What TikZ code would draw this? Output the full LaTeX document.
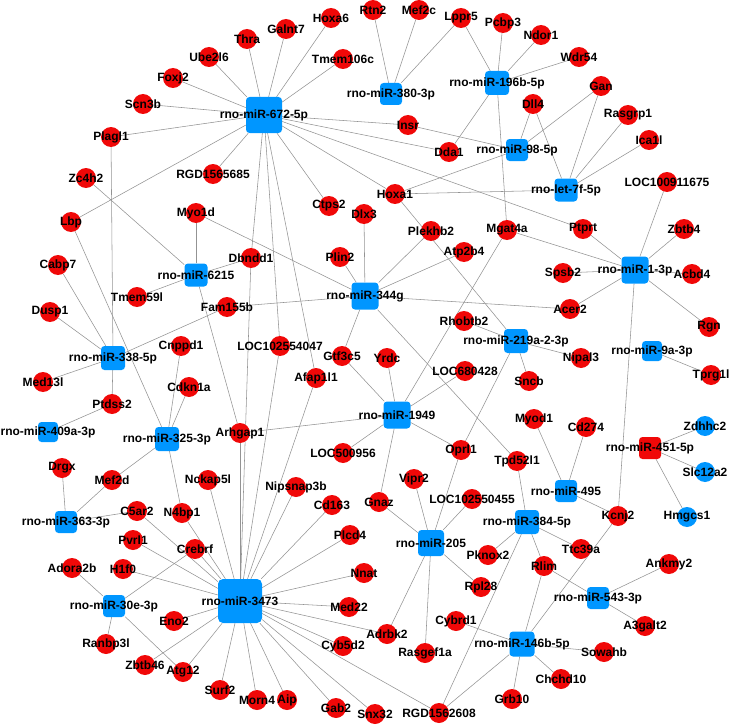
\documentclass[tikz,border=0pt]{standalone}
\usepackage{fontspec}
\setmainfont{Liberation Sans}
\usetikzlibrary{backgrounds}

\definecolor{mirblue}{RGB}{0,150,255}
\definecolor{genered}{RGB}{240,8,8}

\begin{document}
\begin{tikzpicture}[x=1pt, y=-1pt,
    every node/.style={font=\bfseries\fontsize{12pt}{13pt}\selectfont},
    gene/.style={circle, fill=genered, minimum size=20pt, inner sep=0pt},
    bgene/.style={circle, fill=mirblue, minimum size=20pt, inner sep=0pt},
    mir/.style={rectangle, rounded corners=3.5pt, fill=mirblue, minimum size=#1, inner sep=0pt},
    mir/.default=22pt,
    link/.style={draw=gray!85, line width=0.55pt}]
    \useasboundingbox (0,0) rectangle (729,725);

    % miRNA hubs
    \node[mir=36pt, label=center:{rno-miR-672-5p}] (m672) at (264,115) {};
    \node[mir, label=center:{rno-miR-380-3p}] (m380) at (391,94) {};
    \node[mir=24pt, label=center:{rno-miR-196b-5p}] (m196b) at (497,83) {};
    \node[mir, label=center:{rno-miR-98-5p}] (m98) at (517,150) {};
    \node[mir=23pt, label=center:{rno-let-7f-5p}] (let7f) at (566,190) {};
    \node[mir=27pt, label=center:{rno-miR-1-3p}] (m1) at (635,270) {};
    \node[mir=23pt, label=center:{rno-miR-6215}] (m6215) at (196,275) {};
    \node[mir=27pt, label=center:{rno-miR-344g}] (m344g) at (365,296) {};
    \node[mir=24pt, label=center:{rno-miR-338-5p}] (m338) at (113,358) {};
    \node[mir=24pt, label=center:{rno-miR-219a-2-3p}] (m219a) at (516,341) {};
    \node[mir=20pt, label=center:{rno-miR-9a-3p}] (m9a) at (652,351) {};
    \node[mir=20pt, label=center:{rno-miR-409a-3p}] (m409a) at (48,432) {};
    \node[mir=24pt, label=center:{rno-miR-325-3p}] (m325) at (167,439) {};
    \node[mir=27pt, label=center:{rno-miR-1949}] (m1949) at (397,415) {};
    \node[mir, fill=genered, label=center:{rno-miR-451-5p}] (m451) at (650,448) {};
    \node[mir, label=center:{rno-miR-495}] (m495) at (566,491) {};
    \node[mir=24pt, label=center:{rno-miR-384-5p}] (m384) at (527,522) {};
    \node[mir, label=center:{rno-miR-543-3p}] (m543) at (598,598) {};
    \node[mir=25pt, label=center:{rno-miR-146b-5p}] (m146b) at (522,644) {};
    \node[mir=26pt, label=center:{rno-miR-205}] (m205) at (431,543) {};
    \node[mir, label=center:{rno-miR-363-3p}] (m363) at (66,522) {};
    \node[mir, label=center:{rno-miR-30e-3p}] (m30e) at (114,606) {};
    \node[mir=44pt, rounded corners=5pt, label=center:{rno-miR-3473}] (m3473) at (240,601) {};

    % target genes
    \foreach \g/\x/\y in {Thra/247/39, Ube2l6/209/57, Foxj2/173/78, Scn3b/143/104,
        Plagl1/111/137, Zc4h2/86/178, Lbp/71/222, RGD1565685/213/174, Myo1d/196/213,
        Galnt7/286/29, Hoxa6/331/18, Rtn2/373/10, Mef2c/419/10, Lppr5/461/18,
        Tmem106c/343/59, Insr/408/125, Dda1/449/152, Hoxa1/395/194, Ctps2/329/206,
        Dlx3/364/214, Plekhb2/431/231, Pcbp3/503/23, Ndor1/541/35, Wdr54/579/57,
        Gan/601/86, Dll4/533/104, Rasgrp1/628/115, Ica1l/649/140, LOC100911675/667/182,
        Mgat4a/507/230, Ptprt/583/229, Zbtb4/684/229, Cabp7/58/265, Dusp1/50/312,
        Tmem59l/137/297, Dbndd1/251/258, Fam155b/227/307, Cnppd1/181/346,
        Med13l/43/382, Cdkn1a/189/387, Ptdss2/112/404, Arhgap1/240/433, Drgx/62/468,
        Plin2/340/257, Atp2b4/464/252, Rhobtb2/464/321, LOC102554047/280/346,
        Gtf3c5/342/356, Yrdc/387/358, Afap1l1/316/378, LOC680428/465/371,
        LOC500956/343/453, Oprl1/461/450, Spsb2/563/273, Acbd4/692/274,
        Acer2/570/309, Rgn/709/327, Nipal3/581/358, Sncb/529/381, Tprg1l/711/375,
        Myod1/534/419, Cd274/586/427, Tpd52l1/517/461, Mef2d/112/480,
        Nckap5l/208/480, C5ar2/137/511, N4bp1/182/513, Pvrl1/133/540,
        Crebrf/195/549, Adora2b/72/568, H1f0/123/569, Eno2/174/621,
        Ranbp3l/106/644, Zbtb46/145/665, Atg12/183/672, Surf2/220/690,
        Morn4/257/700, Nipsnap3b/296/487, Cd163/332/505, Vipr2/414/479,
        Gnaz/379/502, LOC102550455/472/499, Plcd4/350/535, Nnat/364/573,
        Pknox2/488/555, Rpl28/481/587, Med22/349/607, Cybrd1/456/621,
        Adrbk2/387/634, Cyb5d2/343/646, Rasgef1a/425/653, Aip/287/700,
        Gab2/336/708, Snx32/375/714, RGD1562608/439/713, Kcnj2/618/516,
        Ttc39a/581/549, Rlim/544/566, Ankmy2/669/564, A3galt2/645/626,
        Sowahb/604/652, Chchd10/561/679, Grb10/512/699}
      \node[gene, label=center:\g] (\g) at (\x,\y) {};

    % blue targets of rno-miR-451-5p
    \foreach \g/\x/\y in {Zdhhc2/705/426, Slc12a2/705/472, Hmgcs1/687/517}
      \node[bgene, label=center:\g] (\g) at (\x,\y) {};

    % interactions
    \begin{scope}[on background layer]
      \foreach \g in {Thra, Ube2l6, Foxj2, Scn3b, Plagl1, Lbp, RGD1565685, Galnt7,
          Hoxa6, Tmem106c, Insr, Dda1, Ptprt, Hoxa1, Ctps2, Dbndd1, LOC102554047, Afap1l1}
        \draw[link] (m672) -- (\g);
      \foreach \g in {Rtn2, Mef2c, Lppr5} \draw[link] (m380) -- (\g);
      \foreach \g in {Lppr5, Pcbp3, Ndor1, Wdr54, Dda1, Mgat4a} \draw[link] (m196b) -- (\g);
      \foreach \g in {Insr, Hoxa1, Dll4, Gan} \draw[link] (m98) -- (\g);
      \foreach \g in {Hoxa1, Dll4, Gan, Rasgrp1, Ica1l} \draw[link] (let7f) -- (\g);
      \foreach \g in {Mgat4a, Ptprt, Zbtb4, LOC100911675, Spsb2, Acbd4, Acer2, Rgn, Kcnj2}
        \draw[link] (m1) -- (\g);
      \foreach \g in {Myo1d, Zc4h2, Tmem59l, Dbndd1, Arhgap1} \draw[link] (m6215) -- (\g);
      \foreach \g in {Myo1d, Plin2, Dlx3, Plekhb2, Atp2b4, Fam155b, Acer2, Gtf3c5, Tpd52l1}
        \draw[link] (m344g) -- (\g);
      \foreach \g in {Cabp7, Dusp1, Med13l, Plagl1, Ptdss2, Fam155b} \draw[link] (m338) -- (\g);
      \foreach \g in {Hoxa1, Rhobtb2, Oprl1, Nipal3, Sncb} \draw[link] (m219a) -- (\g);
      \draw[link] (m9a) -- (Tprg1l);
      \draw[link] (m409a) -- (Ptdss2);
      \foreach \g in {Lbp, Cnppd1, Cdkn1a, Mef2d, N4bp1} \draw[link] (m325) -- (\g);
      \foreach \g in {Gtf3c5, Yrdc, LOC680428, LOC500956, Oprl1, Arhgap1, Mgat4a, Gnaz}
        \draw[link] (m1949) -- (\g);
      \foreach \g in {Zdhhc2, Slc12a2, Hmgcs1} \draw[link] (m451) -- (\g);
      \foreach \g in {Myod1, Cd274, Kcnj2} \draw[link] (m495) -- (\g);
      \foreach \g in {Tpd52l1, Pknox2, Ttc39a, Rlim, RGD1562608} \draw[link] (m384) -- (\g);
      \foreach \g in {Rlim, Ankmy2, A3galt2} \draw[link] (m543) -- (\g);
      \foreach \g in {Kcnj2, Rlim, Cybrd1, RGD1562608, Sowahb, Chchd10, Grb10}
        \draw[link] (m146b) -- (\g);
      \foreach \g in {Gnaz, Vipr2, Oprl1, LOC102550455, Rpl28, Adrbk2, Rasgef1a}
        \draw[link] (m205) -- (\g);
      \foreach \g in {Drgx, Mef2d, C5ar2} \draw[link] (m363) -- (\g);
      \foreach \g in {Adora2b, Crebrf, Ranbp3l, Atg12} \draw[link] (m30e) -- (\g);
      \foreach \g in {Arhgap1, Dbndd1, LOC102554047, Afap1l1, Nckap5l, N4bp1, Crebrf,
          C5ar2, Pvrl1, H1f0, Eno2, Zbtb46, Atg12, Surf2, Morn4, Aip, Gab2, Snx32,
          RGD1562608, Cyb5d2, Adrbk2, Med22, Nnat, Plcd4, Cd163, Nipsnap3b}
        \draw[link] (m3473) -- (\g);
    \end{scope}
\end{tikzpicture}
\end{document}
